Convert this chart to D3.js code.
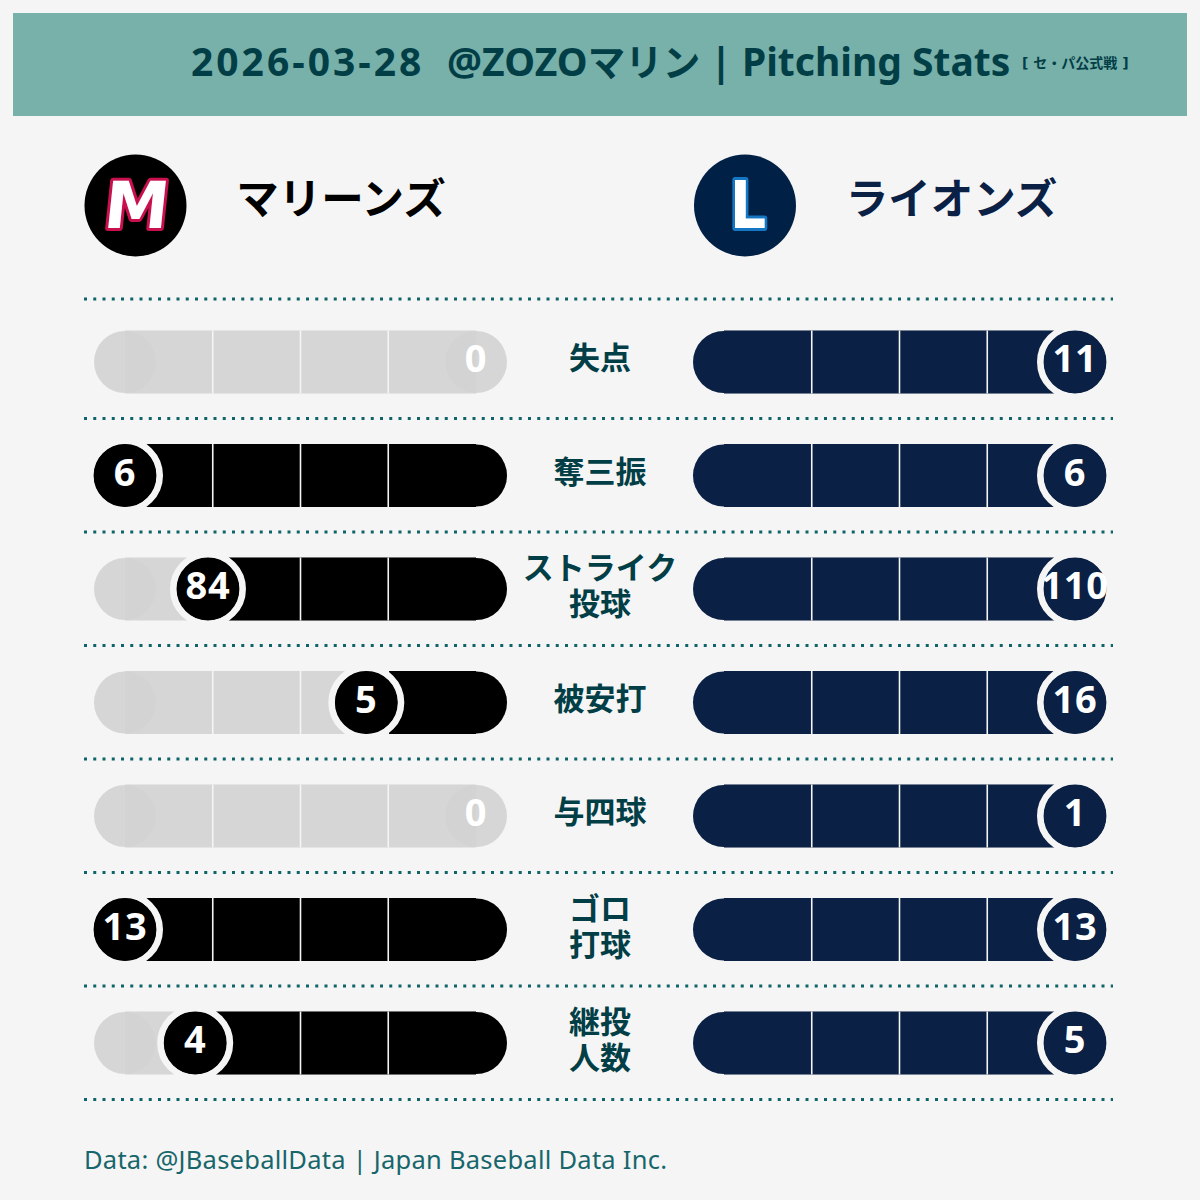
<!DOCTYPE html>
<html><head><meta charset="utf-8">
<script src="https://cdn.jsdelivr.net/npm/d3@7"></script>
<style>html,body{margin:0;padding:0;background:#f5f5f5}svg{display:block}</style>
</head><body><div id="c"></div>
<script>
const statLabels = [["失点"],["奪三振"],["ストライク","投球"],["被安打"],["与四球"],["ゴロ","打球"],["継投","人数"]];
const marines = [0,6,84,5,0,13,4];
const lions = [11,6,110,16,1,13,5];
const teamNames = ["マリーンズ","ライオンズ"];
const titleDate = "2026-03-28";
const titleVenueLatin = "@ZOZO";
const titleVenueKana = "マリン";
const titleRest = " | Pitching Stats";
const subTitle = "[ セ・パ公式戦 ]";
const footer = "Data: @JBaseballData | Japan Baseball Data Inc.";
const ticks = [0.25,0.5,0.75];

const FONT = "'Noto Sans','Noto Sans CJK JP',sans-serif";
const JP = "'Noto Sans CJK JP','Noto Sans',sans-serif";
const BG="#f5f5f5", TEAL="#023e46", NAVY="#0a2044", LOGO_NAVY="#012045", BLACK="#000";

const svg = d3.select("#c").append("svg").attr("width",1200).attr("height",1200).style("background",BG);
svg.append("rect").attr("x",13).attr("y",13).attr("width",1174).attr("height",103).attr("fill","#78b0aa");
const title = svg.append("text").attr("x",191).attr("y",76).attr("font-family",FONT).attr("font-weight",700).attr("font-size",39).attr("fill",TEAL).style("white-space","pre");
title.append("tspan").attr("letter-spacing",3).text(titleDate);
title.append("tspan").attr("x",447).text(titleVenueLatin);
title.append("tspan").attr("font-family",JP).attr("font-size",37.5).text(titleVenueKana);
title.append("tspan").text(titleRest);
svg.append("text").attr("x",1022).attr("y",68).attr("font-family","'DejaVu Sans','Noto Sans CJK JP',sans-serif").attr("font-weight",700).attr("font-size",14).attr("fill",TEAL).style("white-space","pre").text(subTitle);

const row = d3.scaleLinear().domain([0,6]).range([362,1043]);
const rules = [299].concat(d3.range(7).map(i=>row(i)+56.5));
svg.selectAll("line.rule").data(rules).join("line").attr("class","rule")
  .attr("x1",84).attr("x2",1113).attr("y1",d=>d).attr("y2",d=>d)
  .attr("stroke","#0e6468").attr("stroke-width",3).attr("stroke-dasharray","3 6.25");

// logos
const logo = svg.selectAll("g.logo").data([
  {cx:135.5,fill:BLACK,t:"M",st:"#c8104e",skew:-6,sx:1,size:65,tx:134.5,ty:228},
  {cx:745,fill:LOGO_NAVY,t:"L",st:"#1576c4",skew:0,sx:0.88,size:65,tx:748,ty:227.5}]).join("g").attr("class","logo");
logo.append("circle").attr("cx",d=>d.cx).attr("cy",205.5).attr("r",51).attr("fill",d=>d.fill);
logo.append("text").attr("text-anchor","middle").attr("transform",d=>`translate(${d.tx},${d.ty}) skewX(${d.skew}) scale(${d.sx},1)`)
  .attr("font-family","'DejaVu Sans'").attr("font-weight",700).attr("font-size",d=>d.size)
  .attr("fill","#fff").attr("stroke",d=>d.st).attr("stroke-width",6).attr("stroke-linejoin","round").style("paint-order","stroke").text(d=>d.t);

svg.selectAll("text.team").data([{x:341,c:BLACK,t:teamNames[0]},{x:951.5,c:NAVY,t:teamNames[1]}]).join("text").attr("class","team")
  .attr("x",d=>d.x).attr("y",213.5).attr("text-anchor","middle").attr("font-family",JP).attr("font-weight",700).attr("font-size",42.5)
  .attr("fill",d=>d.c).text(d=>d.t);

const R=31, RH=31.5, RING=38;
const leftX = d3.scaleLinear().domain([0,1]).range([125,476]);
const rightX = d3.scaleLinear().domain([0,1]).range([724,1075]);

function bar(g,x,y){
  g.append("circle").attr("cx",x(0)).attr("cy",y).attr("r",R).attr("fill","#d3d3d3").attr("opacity",.9);
  g.append("circle").attr("cx",x(1)).attr("cy",y).attr("r",R).attr("fill","#d3d3d3").attr("opacity",.9);
  g.append("rect").attr("x",x(0)).attr("y",y-RH).attr("width",x(1)-x(0)).attr("height",RH*2).attr("fill","#d3d3d3").attr("opacity",.9);
}
statLabels.forEach((lab,i)=>{
  const y=row(i), g=svg.append("g");
  const m=marines[i], l=lions[i], mx=Math.max(m,l);
  const pL = 1-m/mx, pR = l/mx;
  bar(g,leftX,y);
  bar(g,rightX,y);
  if(m>0){
    g.append("circle").attr("cx",leftX(1)).attr("cy",y).attr("r",R).attr("fill",BLACK);
    g.append("rect").attr("x",leftX(pL)).attr("y",y-RH).attr("width",leftX(1)-leftX(pL)).attr("height",RH*2).attr("fill",BLACK);
  }
  if(l>0){
    g.append("circle").attr("cx",rightX(0)).attr("cy",y).attr("r",R).attr("fill",NAVY);
    g.append("rect").attr("x",rightX(0)).attr("y",y-RH).attr("width",rightX(pR)-rightX(0)).attr("height",RH*2).attr("fill",NAVY);
  }
  [leftX,rightX].forEach(x=>{
    g.selectAll(null).data(ticks).join("line").attr("x1",d=>x(d)).attr("x2",d=>x(d)).attr("y1",y-RH).attr("y2",y+RH).attr("stroke",BG).attr("stroke-width",1.6);
  });
  [[leftX(pL),m,BLACK],[rightX(pR),l,NAVY]].forEach(([cx,v,c])=>{
    if(v>0){
      g.append("circle").attr("cx",cx).attr("cy",y).attr("r",RING-3.3).attr("fill",c).attr("stroke",BG).attr("stroke-width",6.6);
      g.append("circle").attr("cx",cx).attr("cy",y).attr("r",R).attr("fill",c);
    }
    g.append("text").attr("x",cx).attr("y",y+10).attr("text-anchor","middle").attr("font-family",FONT).attr("font-weight",700).attr("font-size",38)
      .attr("letter-spacing",0.8).attr("fill","#fff").text(v);
  });
  const ly = lab.length==1 ? [y+7] : [y-10, y+26];
  lab.forEach((t,k)=>{
    g.append("text").attr("x",600).attr("y",ly[k]).attr("text-anchor","middle").attr("font-family",JP).attr("font-weight",700).attr("font-size",31)
      .attr("fill",TEAL).text(t);
  });
});
svg.append("text").attr("x",84).attr("y",1169).attr("font-family",FONT).attr("font-size",25.5).attr("fill","#17666b").attr("textLength",583).attr("lengthAdjust","spacing").text(footer);
</script></body></html>
